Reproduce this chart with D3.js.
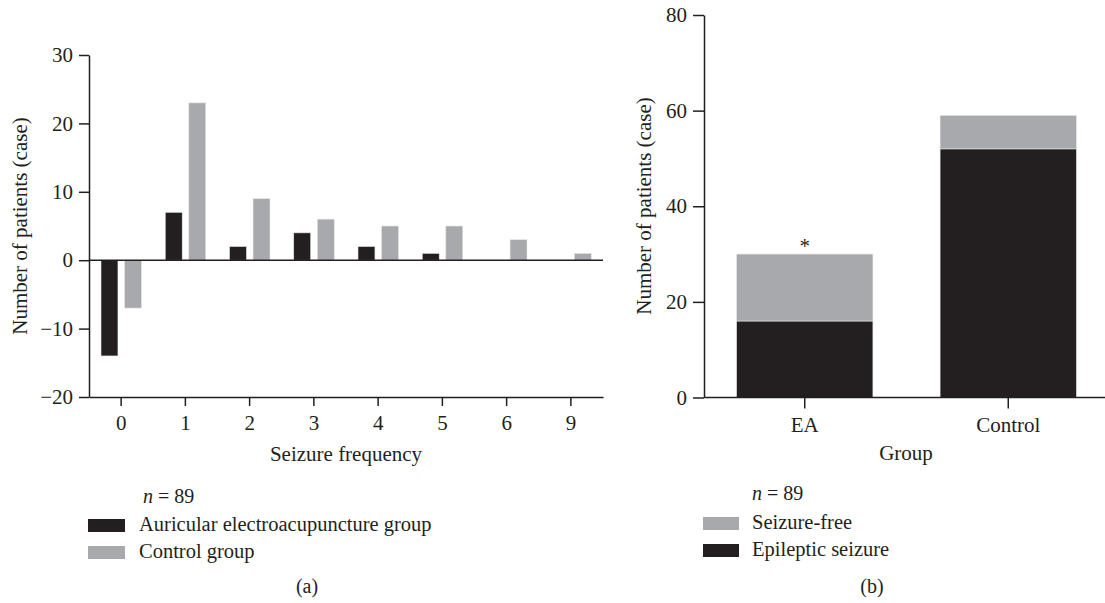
<!DOCTYPE html>
<html lang="en">
<head>
<meta charset="UTF-8">
<title>Seizure frequency and group outcome</title>
<script src="https://d3js.org/d3.v7.min.js"></script>
<style>
    body { margin: 0; background: #fff; }
    svg { display: block; font-family: "Liberation Serif", "DejaVu Serif", serif; }
    .axis path, .axis line { stroke: #231f20; stroke-width: 1.5; }
    .axis text { fill: #231f20; font-size: 21px; font-family: "Liberation Serif", serif; }
    text { fill: #231f20; }
</style>
</head>
<body>
<svg width="1105" height="603"></svg>
<script>
// (a) seizure frequency
const freqCats = ["0", "1", "2", "3", "4", "5", "6", "9"];
const freqSeries = ["Auricular electroacupuncture group", "Control group"];
const eaCounts = [-14, 7, 2, 4, 2, 1, 0, 0];
const ctrlCounts = [-7, 23, 9, 6, 5, 5, 3, 1];
const aTicks = [30, 20, 10, 0, -10, -20];

// (b) stacked by group
const groups = ["EA", "Control"];
const epileptic = [16, 52];
const seizureFree = [14, 7];
const bTicks = [0, 20, 40, 60, 80];

const black = "#231f20", grey = "#a7a9ac";
const svg = d3.select("svg");

// ---- chart a ----
const xa = d3.scaleBand().domain(freqCats).range([89, 603]).padding(0);
const xa1 = d3.scaleBand().domain(freqSeries).range([12, 52.5]).paddingInner(0.28);
const ya = d3.scaleLinear().domain([-20, 30]).range([397, 55]);

const a = svg.append("g");
a.append("g").attr("class", "axis").attr("transform", "translate(89,0)")
    .call(d3.axisLeft(ya).tickValues(aTicks).tickSize(10).tickPadding(6).tickSizeOuter(0)
        .tickFormat(d => d < 0 ? "\u2212" + Math.abs(d) : d));
a.append("g").attr("class", "axis").attr("transform", "translate(0,397)")
    .call(d3.axisBottom(xa).tickSize(9).tickPadding(9).tickSizeOuter(0));

const rowsA = freqCats.map((c, i) => ({cat: c, vals: [eaCounts[i], ctrlCounts[i]]}));
a.selectAll(".grp").data(rowsA).join("g")
    .attr("transform", d => `translate(${xa(d.cat)},0)`)
    .selectAll("rect").data(d => d.vals.map((v, j) => ({s: freqSeries[j], v})))
    .join("rect")
    .attr("x", d => xa1(d.s))
    .attr("width", xa1.bandwidth())
    .attr("y", d => ya(Math.max(0, d.v)))
    .attr("height", d => Math.abs(ya(d.v) - ya(0)))
    .attr("fill", d => d.s === freqSeries[0] ? black : grey)
    .attr("stroke", "#e6e6e6").attr("stroke-width", 0.6);

// zero line
a.append("line").attr("x1", 89).attr("x2", 603).attr("y1", ya(0)).attr("y2", ya(0))
    .attr("stroke", black).attr("stroke-width", 1.5);

a.append("text").attr("x", 346).attr("y", 461).attr("text-anchor", "middle")
    .style("font-size", "21px").text("Seizure frequency");
a.append("text").attr("transform", "translate(27,226) rotate(-90)").attr("text-anchor", "middle")
    .style("font-size", "21px").text("Number of patients (case)");

a.append("text").attr("x", 143).attr("y", 503).style("font-size", "20px")
    .html('<tspan font-style="italic">n</tspan> = 89');
const legA = a.selectAll(".legA").data(freqSeries).join("g")
    .attr("transform", (d, i) => `translate(88,${519 + i * 27})`);
legA.append("rect").attr("width", 37).attr("height", 13).attr("fill", (d, i) => i === 0 ? black : grey);
legA.append("text").attr("x", 51).attr("y", 12).style("font-size", "20.5px").text(d => d);
a.append("text").attr("x", 307).attr("y", 593).attr("text-anchor", "middle")
    .style("font-size", "20px").text("(a)");

// ---- chart b ----
const xb = d3.scaleBand().domain(groups).range([704, 1109]).paddingInner(0.33).paddingOuter(0.16);
const yb = d3.scaleLinear().domain([0, 80]).range([397.5, 15]);

const b = svg.append("g");
const stackData = groups.map((g, i) => ({group: g, epileptic: epileptic[i], free: seizureFree[i]}));
const stacked = d3.stack().keys(["epileptic", "free"])(stackData);
b.selectAll(".layer").data(stacked).join("g")
    .attr("fill", d => d.key === "epileptic" ? black : grey)
    .selectAll("rect").data(d => d).join("rect")
    .attr("x", d => xb(d.data.group))
    .attr("width", xb.bandwidth())
    .attr("y", d => yb(d[1]))
    .attr("height", d => yb(d[0]) - yb(d[1]))
    .attr("stroke", "#e6e6e6").attr("stroke-width", 0.6);

b.append("g").attr("class", "axis").attr("transform", "translate(704,0)")
    .call(d3.axisLeft(yb).tickValues(bTicks).tickSize(11).tickPadding(6).tickSizeOuter(0));
b.append("g").attr("class", "axis").attr("transform", "translate(0,397.5)")
    .call(d3.axisBottom(xb).tickSize(11).tickPadding(9).tickSizeOuter(0))
    .select(".domain").attr("d", "M704,0H1105");

b.append("text").attr("x", xb("EA") + xb.bandwidth() / 2).attr("y", yb(30) - 1)
    .attr("text-anchor", "middle").style("font-size", "21px").text("*");

b.append("text").attr("x", 906).attr("y", 460).attr("text-anchor", "middle")
    .style("font-size", "21px").text("Group");
b.append("text").attr("transform", "translate(651,206) rotate(-90)").attr("text-anchor", "middle")
    .style("font-size", "21px").text("Number of patients (case)");

b.append("text").attr("x", 752).attr("y", 500).style("font-size", "20px")
    .html('<tspan font-style="italic">n</tspan> = 89');
const legB = b.selectAll(".legB").data(["Seizure-free", "Epileptic seizure"]).join("g")
    .attr("transform", (d, i) => `translate(703,${517 + i * 27})`);
legB.append("rect").attr("width", 36).attr("height", 13).attr("fill", (d, i) => i === 0 ? grey : black);
legB.append("text").attr("x", 49).attr("y", 12).style("font-size", "20.5px").text(d => d);
b.append("text").attr("x", 872).attr("y", 593).attr("text-anchor", "middle")
    .style("font-size", "20px").text("(b)");
</script>
</body>
</html>
